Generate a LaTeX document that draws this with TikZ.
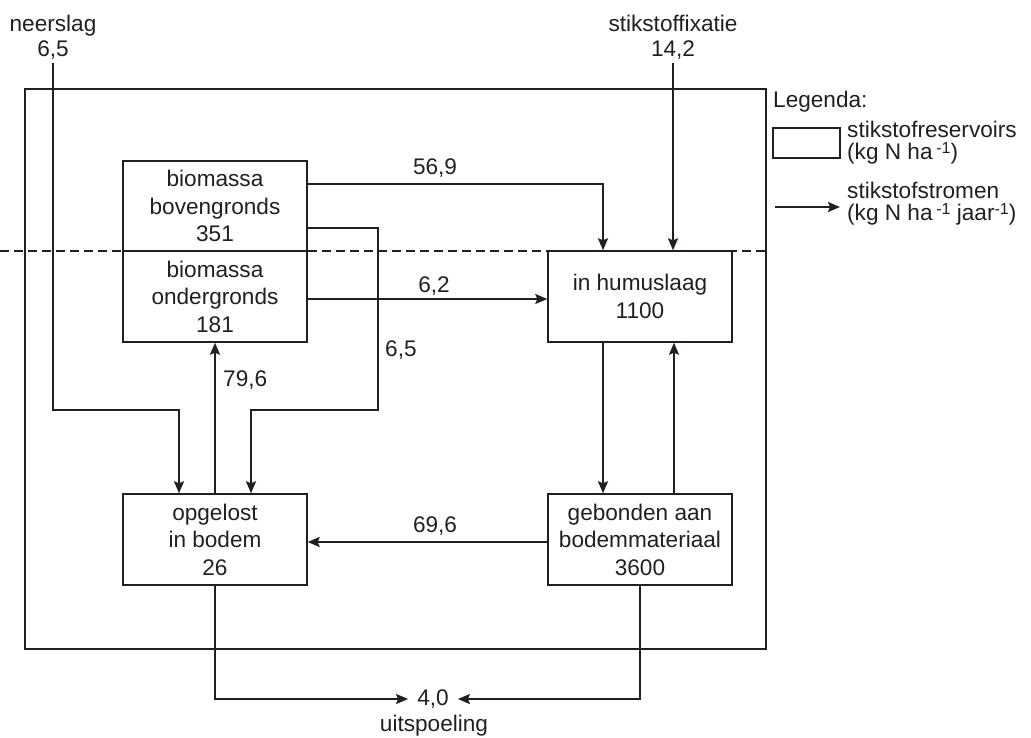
\documentclass[tikz,border=0pt]{standalone}
\usepackage{fontspec}
\setmainfont{Liberation Sans}
\usetikzlibrary{arrows.meta,calc}
\definecolor{ink}{RGB}{35,31,32}
\newcommand{\supm}{\raisebox{6pt}{\fontsize{16}{16}\selectfont -1}}
\begin{document}
\begin{tikzpicture}[x=1pt,y=-1pt,
  every node/.style={text=ink},
  txt/.style={font=\fontsize{22.6}{27.5}\selectfont, inner sep=0pt},
  box/.style={draw=ink, line width=1.4pt, minimum width=184pt, minimum height=91pt,
    align=center, inner sep=0pt, font=\fontsize{22.6}{27.5}\selectfont},
  flow/.style={draw=ink, line width=2pt, -{Stealth[length=12pt,width=10pt,inset=2pt]}},
  frame/.style={draw=ink, line width=1.3pt}]
\useasboundingbox (0,0) rectangle (1031,737);
% outer frame and dashed soil line
\draw[frame] (25,89) rectangle (766,649);
\draw[frame, dash pattern=on 8.5pt off 5.5pt] (0,251) -- (766,251);
% reservoirs
\node[box, minimum height=90pt] (boven) at (215,206) {biomassa\\bovengronds\\351};
\node[box] (onder) at (215,296.5) {biomassa\\ondergronds\\181};
\node[box] (humus) at (640,296.5) {in humuslaag\\1100};
\node[box] (opg) at (215,539.5) {opgelost\\in bodem\\26};
\node[box] (geb) at (640,539.5) {gebonden aan\\bodemmateriaal\\3600};
% inputs
\node[txt, font=\fontsize{22.6}{25}\selectfont, align=center, anchor=south] (ns) at (53,60) {neerslag\\6,5};
\node[txt, font=\fontsize{22.6}{25}\selectfont, align=center, anchor=south] (sf) at (673,60) {stikstoffixatie\\14,2};
\coordinate (nsbend) at (179,410);
\coordinate (c65) at (378,410);
\draw[flow, shorten <=3pt] (ns.south) |- (nsbend) -- (nsbend |- opg.north);
\draw[flow, shorten <=3pt] (sf.south) -- (sf.south |- humus.north);
% flows
\draw[flow] ([yshift=22pt]boven.east) -| ([xshift=-37pt]humus.north);
\node[txt] (l569) at (435,168) {56,9};
\draw[flow] ([yshift=-2.5pt]onder.east) -- ([yshift=-2.5pt]humus.west);
\node[txt] (l62) at (434,286) {6,2};
\draw[flow] ([yshift=-22pt]boven.east) -| (c65) -| ([xshift=36pt]opg.north);
\node[txt, anchor=west] (l65) at (385,350) {6,5};
\draw[flow] (opg.north) -- (onder.south);
\node[txt, anchor=west] (l796) at (223,380) {79,6};
\draw[flow] ([xshift=-37pt]humus.south) -- ([xshift=-37pt]geb.north);
\draw[flow] ([xshift=34pt]geb.north) -- ([xshift=34pt]humus.south);
\draw[flow] ([yshift=-2.5pt]geb.west) -- ([yshift=-2.5pt]opg.east);
\node[txt] (l696) at (435,526) {69,6};
% leaching
\node[txt, inner xsep=9pt] (out) at (433,699) {4,0};
\draw[flow] (opg.south) |- (out.west);
\draw[flow] (geb.south) |- (out.east);
\node[txt, anchor=base] (uit) at (434,731.5) {uitspoeling};
% legend
\node[txt, anchor=base west] (leg) at (773,107) {Legenda:};
\node[draw=ink, line width=1.4pt, minimum width=67pt, minimum height=30pt, inner sep=0pt] (lbox) at (806.5,143) {};
\node[txt, anchor=base west] (lr1) at (847,137) {stikstofreservoirs};
\node[txt, anchor=base west] (lr2) at (847,159) {(kg N ha\,\supm)};
\coordinate (la1) at (775,207);
\coordinate (la2) at (840,207);
\draw[flow] (la1) -- (la2);
\node[txt, anchor=base west] (ls1) at (847,198) {stikstofstromen};
\node[txt, anchor=base west] (ls2) at (847,220) {(kg N ha\,\supm\ jaar\supm)};
\end{tikzpicture}
\end{document}
